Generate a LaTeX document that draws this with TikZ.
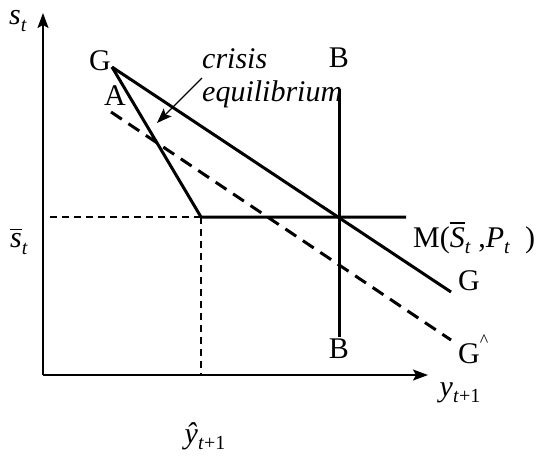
\documentclass[tikz,border=0pt]{standalone}
\usepackage{amsmath,amssymb}
\usepackage{fontspec}
\setmainfont{Liberation Serif}
\usepackage{tikz}
\usetikzlibrary{arrows.meta,positioning,calc}
\newcommand{\isub}[2]{\textit{#1}\raisebox{-0.45ex}{\fontsize{20}{20}\selectfont#2}}
\newcommand{\barit}[1]{\ensuremath{\overline{\hbox{\textit{#1}}}}}

\begin{document}
\begin{tikzpicture}[x=1pt, y=-1pt,
    axis/.style={line width=1.8pt, -{Stealth[length=15pt, width=11pt, inset=3pt]}},
    curve/.style={line width=3pt},
    shifted/.style={line width=3pt, dash pattern=on 13pt off 8pt},
    guide/.style={line width=1.3pt, dash pattern=on 7pt off 5pt},
    lbl/.style={font=\fontsize{30}{34}\selectfont, inner sep=0pt},
    note/.style={font=\fontsize{30}{33}\selectfont\itshape, inner sep=0pt, align=left},
    arr/.style={line width=1.3pt, -{Stealth[length=15pt, width=11pt, inset=3pt]}},
]
\useasboundingbox (0,0) rectangle (546,456);

% --- Axes ---
\coordinate (o) at (43,375);
\coordinate (ytop) at (43,13);
\coordinate (xend) at (428,375);
\draw[axis] (o) -- (ytop);
\draw[axis] (o) -- (xend);
\node[lbl] (slab) at (18,21) {\isub{s}{\textit{t}}};
\node[lbl] (ylab) at (460,393) {\isub{y}{\textit{t}+1}};

% --- Curves ---
\coordinate (g0) at (112,67);
\coordinate (g1) at (451,292);
\coordinate (kink) at (201,217);
\coordinate (hend) at (406,217);
\coordinate (a0) at (111,112);
\coordinate (a1) at (451,340);
\coordinate (btop) at (339,89);
\coordinate (bbot) at (339,337);
\draw[curve] (g0) -- (g1);
\draw[curve, line join=miter] (g0) -- (kink) -- (hend);
\draw[shifted] (a0) -- (a1);
\draw[curve] (btop) -- (bbot);

% --- Guides to the axes ---
\coordinate (sbar) at (50,217);
\coordinate (yhat) at (201,375);
\draw[guide] (sbar) -- (kink);
\draw[guide] (kink) -- (yhat);
\node[lbl] (sbarlab) at (19,241) {\isub{\barit{s}}{\textit{t}}};
\node[lbl] (yhatlab) at (205,436) {\isub{\^{y}}{\textit{t}+1}};

% --- Labels ---
\node[lbl] (gtop) at (100,61) {G};
\node[lbl] (alab) at (115,96) {A};
\node[lbl] (btoplab) at (339,58) {B};
\node[lbl] (bbotlab) at (339,349) {B};
\node[lbl, anchor=base west] (mlab) at (413,247) {M(\isub{\barit{S}}{\textit{t}}\ ,\isub{P}{\textit{t}}\ \ )};
\node[lbl, anchor=west] (glab) at (458,281) {G};
\node[lbl, anchor=west] (ghatlab) at (458,349) {G\raisebox{1.2ex}{\fontsize{18}{18}\selectfont\textasciicircum}};

% --- Crisis equilibrium ---
\node[note, anchor=north west] (crisis) at (202,48) {crisis\\equilibrium};
\coordinate (cfrom) at (202,78);
\coordinate (cto) at (157,123);
\draw[arr] (cfrom) -- (cto);

\end{tikzpicture}
\end{document}
